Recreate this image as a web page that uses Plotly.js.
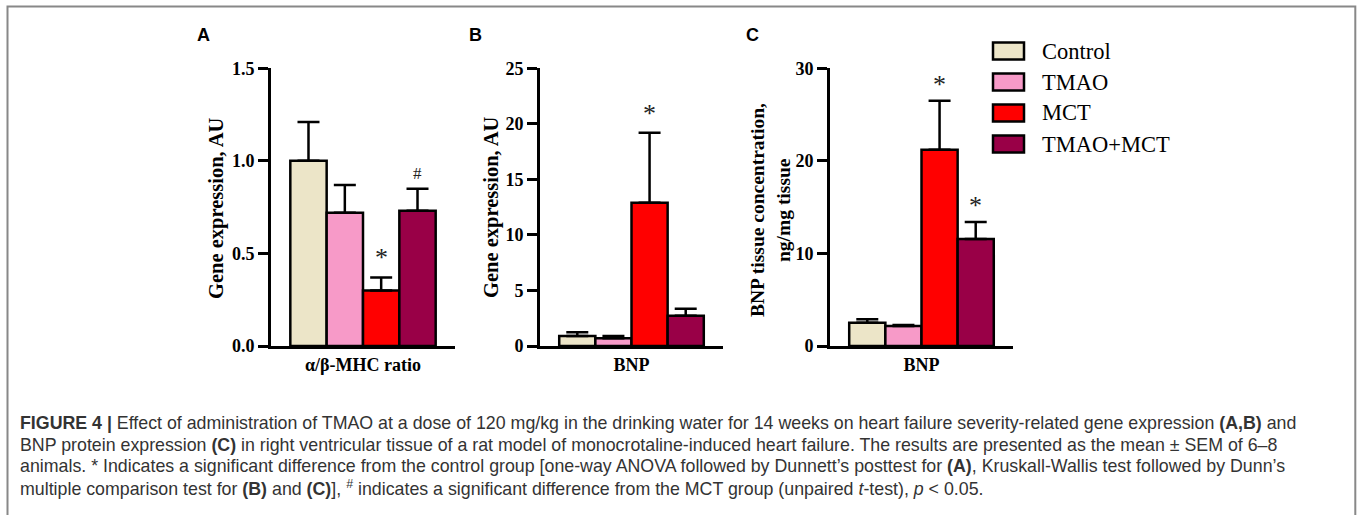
<!DOCTYPE html>
<html>
<head>
<meta charset="utf-8">
<script src="https://cdn.plot.ly/plotly-3.0.1.min.js"></script>
<style>html,body{margin:0;padding:0;background:#fff;} #chart{width:1357px;height:515px;}</style>
</head>
<body>
<div id="chart"></div>
<script>
// ---------------- data ----------------
const groups = ['Control', 'TMAO', 'MCT', 'TMAO+MCT'];

const catA = 'α/β-MHC ratio';
const valuesA = [1.0, 0.72, 0.30, 0.73];
const semA = [0.21, 0.15, 0.07, 0.12];
const marksA = ['', '', '*', '#'];

const catB = 'BNP';
const valuesB = [0.9, 0.7, 12.9, 2.73];
const semB = [0.33, 0.2, 6.3, 0.63];
const marksB = ['', '', '*', ''];

const catC = 'BNP';
const valuesC = [2.52, 2.16, 21.2, 11.55];
const semC = [0.36, 0.1, 5.3, 1.85];
const marksC = ['', '', '*', '*'];

const yTitleA = 'Gene expression, AU';
const yTitleB = 'Gene expression, AU';
const yTitleC = ['BNP tissue concentration,', 'ng/mg tissue'];
const panelLetters = ['A', 'B', 'C'];

const captionLines = [
  '<b>FIGURE 4 |</b> Effect of administration of TMAO at a dose of 120 mg/kg in the drinking water for 14 weeks on heart failure severity-related gene expression <b>(A,B)</b> and',
  'BNP protein expression <b>(C)</b> in right ventricular tissue of a rat model of monocrotaline-induced heart failure. The results are presented as the mean ± SEM of 6–8',
  'animals. * Indicates a significant difference from the control group [one-way ANOVA followed by Dunnett’s posttest for <b>(A)</b>, Kruskall-Wallis test followed by Dunn’s',
  'multiple comparison test for <b>(B)</b> and <b>(C)</b>], <sup>#</sup> indicates a significant difference from the MCT group (unpaired <i>t</i>-test), <i>p</i> &lt; 0.05.'
];

// ---------------- styles ----------------
const W = 1357, H = 515;
const px = x => x / W;
const py = y => (H - y) / H;
const colors = ['#ECE5C8', '#F79AC8', '#FF0000', '#990047'];
const serif = 'Liberation Serif, Times New Roman, serif';
const sans = 'Liberation Sans, Arial, sans-serif';
const BARGAP = 0.21;

const panels = [
  {cat: catA, vals: valuesA, sem: semA, marks: marksA, xa: 'x', ya: 'y', xdom: [271, 455], yr: [0, 1.5], dtick: 0.5, fmt: '.1f', markShift: 4},
  {cat: catB, vals: valuesB, sem: semB, marks: marksB, xa: 'x2', ya: 'y2', xdom: [540, 723], yr: [0, 25], dtick: 5, fmt: 'd', markShift: 3},
  {cat: catC, vals: valuesC, sem: semC, marks: marksC, xa: 'x3', ya: 'y3', xdom: [830, 1013], yr: [0, 30], dtick: 10, fmt: 'd', markShift: 0}
];

const traces = [];
const annotations = [];
const shapes = [];

panels.forEach((p, pi) => {
  groups.forEach((g, gi) => {
    traces.push({
      type: 'bar',
      name: g,
      x: [p.cat],
      y: [p.vals[gi]],
      xaxis: p.xa,
      yaxis: p.ya,
      showlegend: false,
      marker: {color: colors[gi], line: {color: '#000', width: 2.5}},
      error_y: {type: 'data', symmetric: false, array: [p.sem[gi]], arrayminus: [0],
                color: '#000', thickness: 2.5, width: 11},
      hoverinfo: 'skip'
    });
    if (p.marks[gi]) {
      const off = (gi - 1.5) * (1 - BARGAP) / 4;
      const isHash = p.marks[gi] === '#';
      annotations.push({
        xref: p.xa, yref: p.ya, x: off, y: p.vals[gi] + p.sem[gi],
        text: p.marks[gi], showarrow: false, yanchor: 'bottom',
        yshift: isHash ? 4 : p.markShift,
        font: {family: serif, size: isHash ? 17 : 26, color: '#222'}
      });
    }
  });
});

const layout = {
  width: W, height: H,
  margin: {l: 0, r: 0, t: 0, b: 0},
  paper_bgcolor: '#fff', plot_bgcolor: 'rgba(0,0,0,0)',
  barmode: 'group', bargap: BARGAP, bargroupgap: 0,
  showlegend: false,
  annotations: annotations,
  shapes: shapes
};

panels.forEach((p, pi) => {
  const sfx = pi === 0 ? '' : String(pi + 1);
  layout['xaxis' + sfx] = {
    domain: [px(p.xdom[0]), px(p.xdom[1])],
    anchor: 'y' + sfx, type: 'category', range: [-0.5, 0.5],
    showline: true, linecolor: '#000', linewidth: 3,
    ticks: '', showgrid: false, zeroline: false, fixedrange: true,
    tickfont: {family: serif, size: 18, color: '#000', weight: 'bold'}
  };
  layout['yaxis' + sfx] = {
    domain: [py(346), py(68.3)],
    anchor: 'x' + sfx, range: p.yr, dtick: p.dtick, tick0: 0, tickformat: p.fmt,
    showline: true, linecolor: '#000', linewidth: 3,
    ticks: 'outside', ticklen: 10, tickwidth: 3, tickcolor: '#000',
    showgrid: false, zeroline: false, fixedrange: true,
    tickfont: {family: serif, size: 18, color: '#000', weight: 'bold'}
  };
});

// y-axis titles
function yTitle(text, xPix, yPix, size) {
  annotations.push({xref: 'paper', yref: 'paper', x: px(xPix), y: py(yPix), text: text,
    textangle: -90, showarrow: false, xanchor: 'center', yanchor: 'middle',
    font: {family: serif, size: size, color: '#000', weight: 'bold'}});
}
yTitle(yTitleA, 216, 208, 20.5);
yTitle(yTitleB, 491, 208, 20.5);
yTitle(yTitleC[0], 757, 210, 19.5);
yTitle(yTitleC[1], 783, 210, 19.5);

// panel letters
[[203, 35], [475, 35], [753, 35]].forEach((pos, i) => {
  annotations.push({xref: 'paper', yref: 'paper', x: px(pos[0]), y: py(pos[1]), text: panelLetters[i],
    showarrow: false, xanchor: 'center', yanchor: 'middle',
    font: {family: sans, size: 18, color: '#000', weight: 'bold'}});
});

// legend (custom)
const legY = [51, 82, 113, 144];
groups.forEach((g, gi) => {
  shapes.push({type: 'rect', xref: 'paper', yref: 'paper',
    x0: px(993), x1: px(1024), y0: py(legY[gi] + 8.5), y1: py(legY[gi] - 8.5),
    fillcolor: colors[gi], line: {color: '#000', width: 2.5}});
  annotations.push({xref: 'paper', yref: 'paper', x: px(1040), y: py(legY[gi]), text: g,
    showarrow: false, xanchor: 'left', yanchor: 'middle',
    font: {family: serif, size: 22.5, color: '#000'}});
});

// caption
const capY = [423, 445, 466, 488];
captionLines.forEach((t, i) => {
  annotations.push({xref: 'paper', yref: 'paper', x: px(18), y: py(capY[i]), text: t,
    showarrow: false, xanchor: 'left', yanchor: 'middle', align: 'left',
    font: {family: sans, size: 17.8, color: '#333'}});
});

// frame
shapes.push({type: 'rect', xref: 'paper', yref: 'paper', x0: px(7.5), x1: px(1355.3), y0: -0.1, y1: py(6.5),
  line: {color: '#888', width: 2}, fillcolor: 'rgba(0,0,0,0)', layer: 'below'});

Plotly.newPlot('chart', traces, layout, {staticPlot: true, displayModeBar: false});
</script>
</body>
</html>
